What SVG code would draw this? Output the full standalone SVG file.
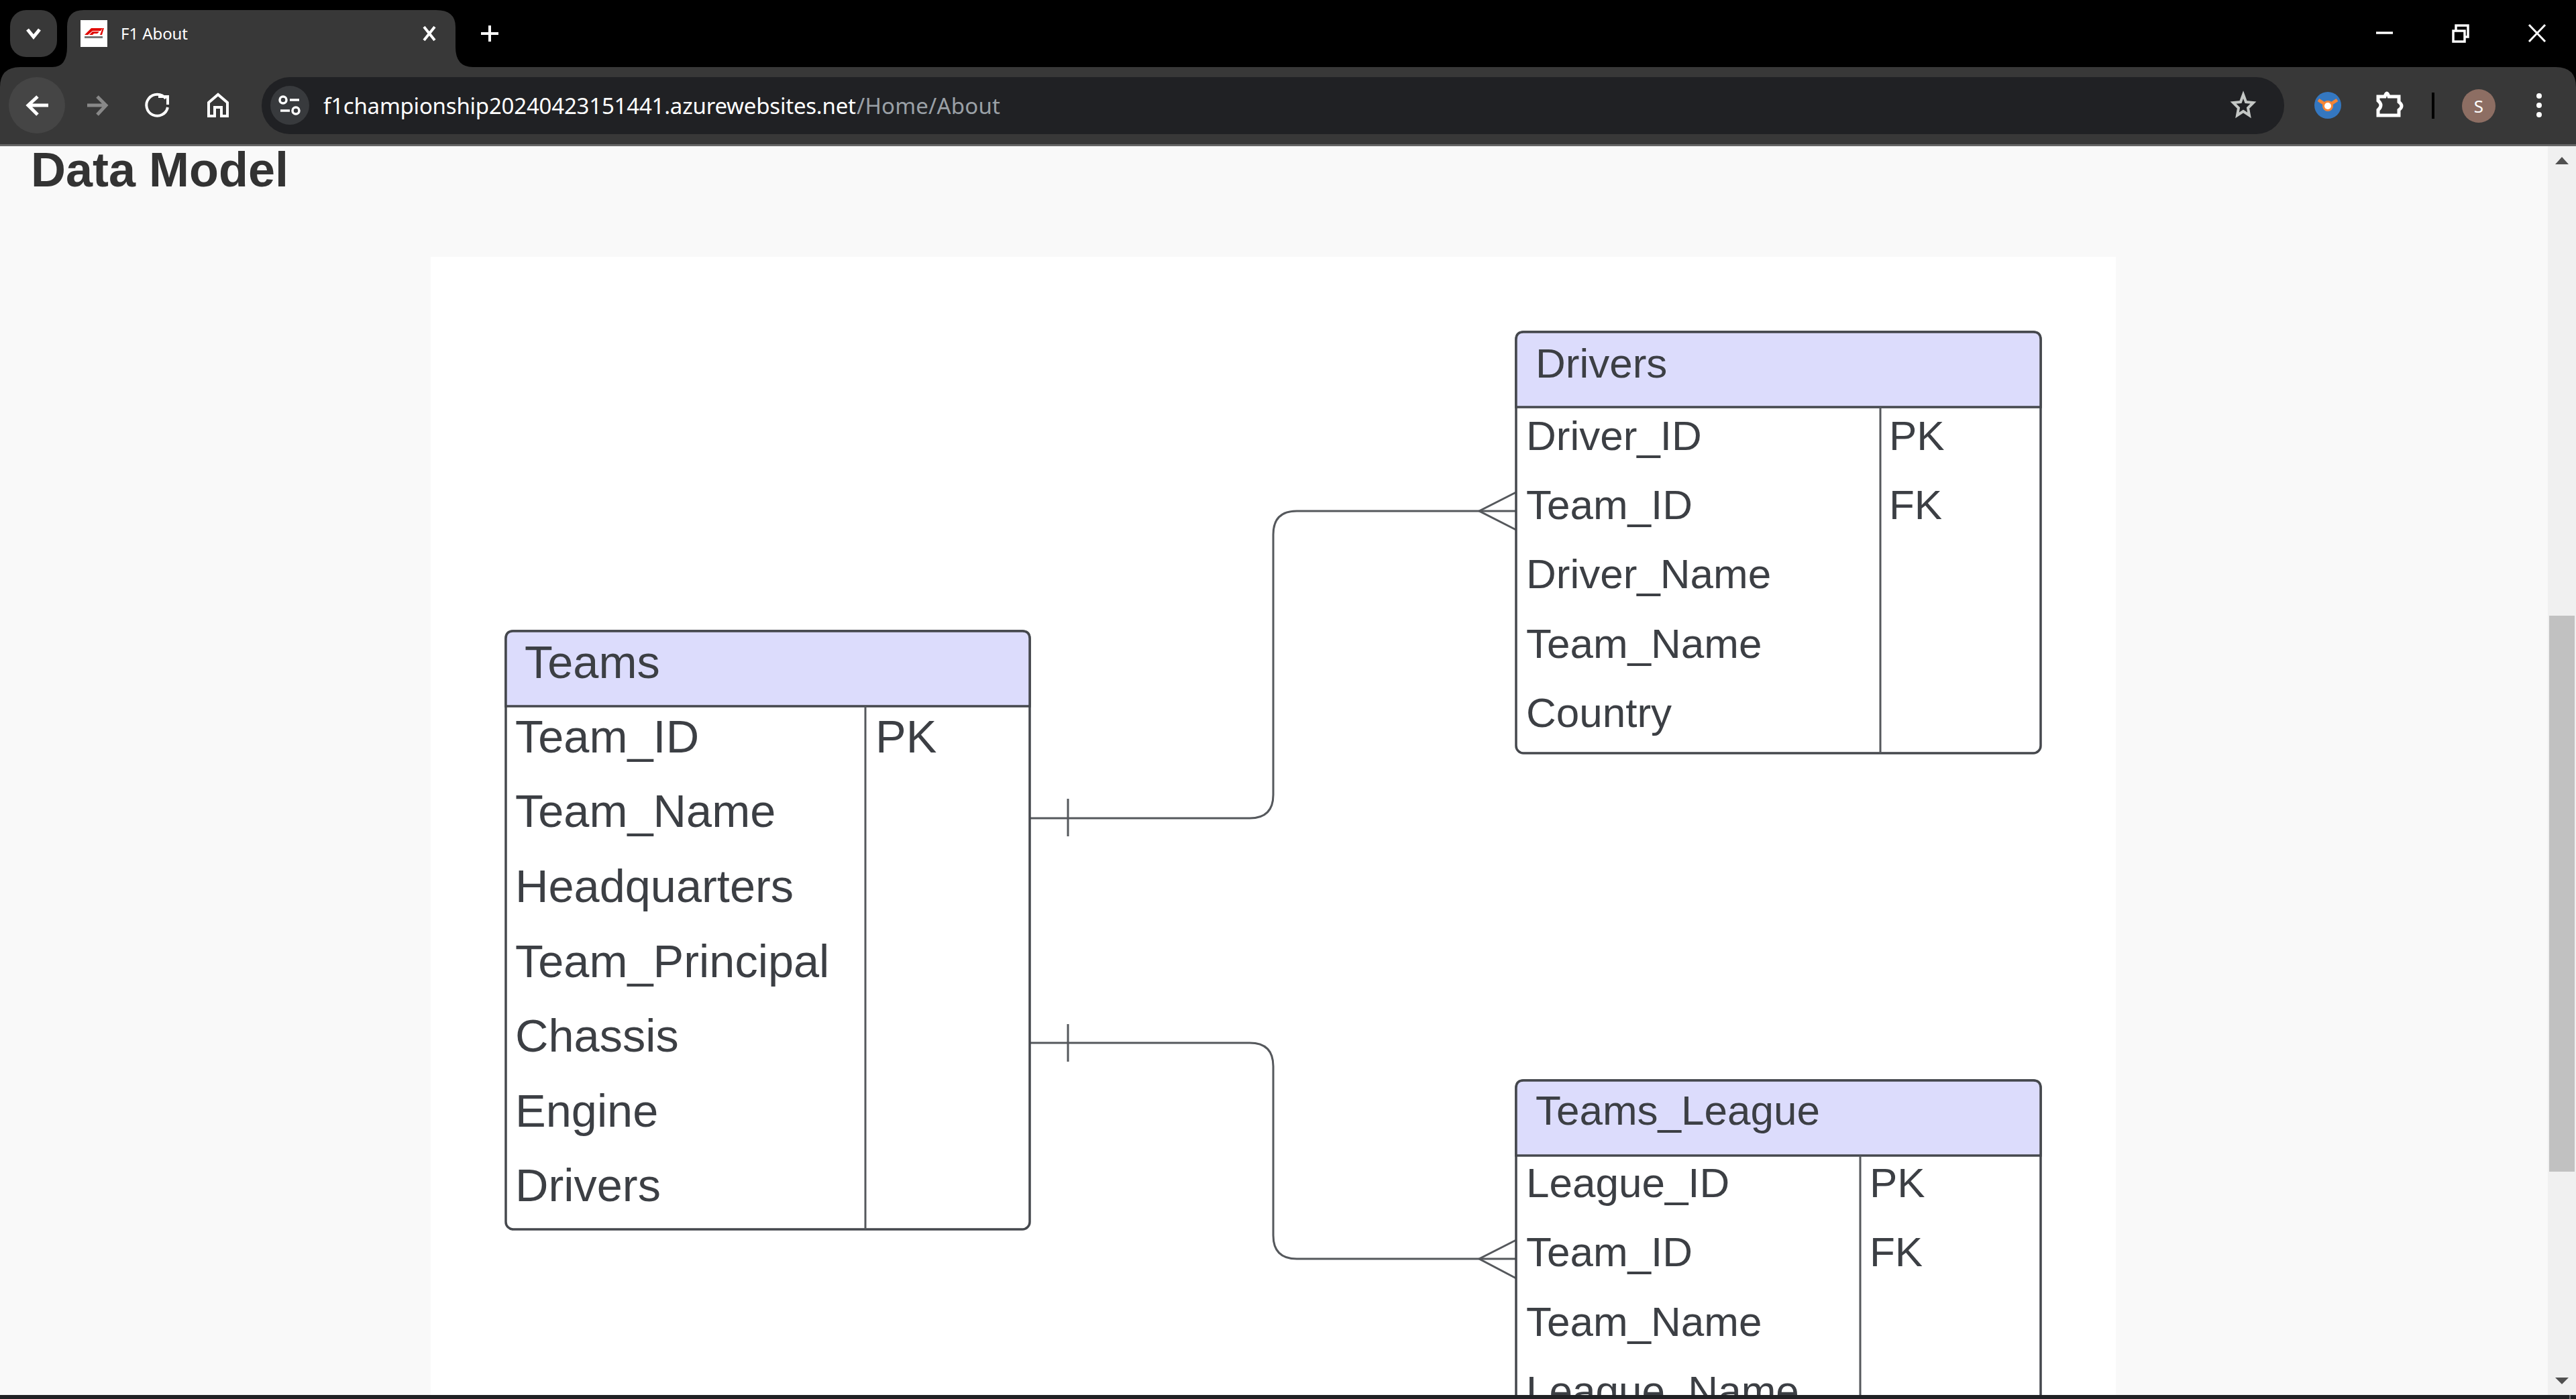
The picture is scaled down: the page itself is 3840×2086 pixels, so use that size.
<svg xmlns="http://www.w3.org/2000/svg" width="3840" height="2086" viewBox="0 0 3840 2086">
<style>
.ui{font-family:"Noto Sans","Open Sans","Liberation Sans",sans-serif}
.t{font-family:"Liberation Sans",Arial,sans-serif;fill:#3c3f44;font-size:62px}
.b{font-size:68.5px}
.box{fill:#fff;stroke:#45484d;stroke-width:3.5}
.hd{fill:#dcdcfc;stroke:#45484d;stroke-width:3.5}
.ln{stroke:#55585c;stroke-width:3;fill:none}
.ic{fill:none;stroke:#fff;stroke-width:5}
</style>
<rect width="3840" height="2086" fill="#f9f9f9"/>
<g id="page">
<rect x="642" y="383" width="2512" height="1700" fill="#fff"/>
<text x="46" y="278" font-family="Liberation Sans,Arial,sans-serif" font-weight="700" font-size="72" fill="#333">Data Model</text>
</g>
<g id="connectors" class="ln">
<path d="M1535 1220H1863Q1898 1220 1898 1185V797Q1898 762 1933 762H2260"/>
<path d="M1592 1191V1247"/>
<path d="M2260 734L2205 762L2260 790"/>
<path d="M1535 1555H1863Q1898 1555 1898 1590V1842Q1898 1877 1933 1877H2260"/>
<path d="M1592 1527V1583"/>
<path d="M2260 1849L2205 1877L2260 1906"/>
</g>
<g id="teams">
<rect class="box" x="754" y="941" width="781" height="892" rx="11"/>
<path class="hd" d="M754 1053V952Q754 941 765 941H1524Q1535 941 1535 952V1053Z"/>
<path class="ln" d="M1290 1053V1833"/>
<text class="t b" x="782" y="1011">Teams</text>
<text class="t b" x="768" y="1122">Team_ID</text>
<text class="t b" x="768" y="1233">Team_Name</text>
<text class="t b" x="768" y="1345">Headquarters</text>
<text class="t b" x="768" y="1457">Team_Principal</text>
<text class="t b" x="768" y="1568">Chassis</text>
<text class="t b" x="768" y="1680">Engine</text>
<text class="t b" x="768" y="1791">Drivers</text>
<text class="t b" x="1305" y="1122">PK</text>
</g>
<g id="drivers">
<rect class="box" x="2260" y="495" width="782" height="628" rx="11"/>
<path class="hd" d="M2260 607V506Q2260 495 2271 495H3031Q3042 495 3042 506V607Z"/>
<path class="ln" d="M2803 607V1123"/>
<text class="t" x="2289" y="563">Drivers</text>
<text class="t" x="2275" y="671">Driver_ID</text>
<text class="t" x="2275" y="774">Team_ID</text>
<text class="t" x="2275" y="877">Driver_Name</text>
<text class="t" x="2275" y="981">Team_Name</text>
<text class="t" x="2275" y="1084">Country</text>
<text class="t" x="2816" y="671">PK</text>
<text class="t" x="2816" y="774">FK</text>
</g>
<g id="teams_league">
<rect class="box" x="2260" y="1611" width="782" height="600" rx="11"/>
<path class="hd" d="M2260 1723V1622Q2260 1611 2271 1611H3031Q3042 1611 3042 1622V1723Z"/>
<path class="ln" d="M2773 1723V2100"/>
<text class="t" x="2289" y="1677">Teams_League</text>
<text class="t" x="2275" y="1785">League_ID</text>
<text class="t" x="2275" y="1888">Team_ID</text>
<text class="t" x="2275" y="1992">Team_Name</text>
<text class="t" x="2275" y="2095">League_Name</text>
<text class="t" x="2787" y="1785">PK</text>
<text class="t" x="2787" y="1888">FK</text>
</g>
<g id="scrollbar">
<rect x="3798" y="218" width="42" height="1862" fill="#f0f0f0"/>
<rect x="3800" y="918" width="38" height="829" fill="#c1c1c1"/>
<path d="M3809 245H3829L3819 234Z" fill="#505050"/>
<path d="M3809 2054H3829L3819 2064Z" fill="#505050"/>
</g>
<rect id="taskbar" y="2080" width="3840" height="6" fill="#202124"/>
<rect x="3830" y="2080" width="2" height="6" fill="#777"/>
<g id="browser">
<rect width="3840" height="100" fill="#000"/>
<rect y="100" width="3840" height="115" fill="#383838"/>
<path d="M0 130Q0 100 30 100H0ZM3840 130Q3840 100 3810 100H3840Z" fill="#000"/>
<rect y="215" width="3840" height="3" fill="#666"/>
<rect x="15" y="15" width="70" height="70" rx="24" fill="#383838"/>
<path class="ic" d="M41 44L50 55L59 44"/>
<path d="M78 100Q100 100 100 70V40Q100 15 125 15H650Q679 15 679 40V70Q679 100 705 100Z" fill="#383838"/>
<rect x="120" y="30" width="40" height="40" fill="#fff"/>
<path d="M126 52L136 42H153L150 46H138L131 52ZM133 52L138 47H148L145 50H140L138 52ZM149 52L153 42H155L152 52Z" fill="#e10600"/>
<rect x="126" y="54" width="27" height="3" fill="#777"/>
<text class="ui" x="180" y="59" font-size="24" fill="#fff" textLength="100">F1 About</text>
<path d="M632 40L648 60M648 40L632 60" stroke="#fff" stroke-width="4"/>
<path d="M730 38V62M717 50H743" stroke="#fff" stroke-width="4"/>
<circle cx="55" cy="157" r="42" fill="#454545"/>
<path class="ic" d="M72 157H42M56 144L42 157L56 171"/>
<path class="ic" style="stroke:#888" d="M130 157H158M145 144L158 157L145 171"/>
<path class="ic" style="stroke-width:4" d="M247 147A16 16 0 1 0 250 160M236 144H250V156"/>
<path class="ic" style="stroke-width:4" d="M311 173V153L325 141L339 153V173H330V160H320V173Z"/>
<rect x="390" y="115" width="3015" height="85" rx="42" fill="#202124"/>
<circle cx="432" cy="157" r="29" fill="#383a3d"/>
<circle cx="422" cy="149" r="5" fill="none" stroke="#fff" stroke-width="3.5"/><path d="M432 149H446M418 165H432" stroke="#fff" stroke-width="3.5"/><circle cx="441" cy="165" r="5" fill="none" stroke="#fff" stroke-width="3.5"/>
<text class="ui" x="482" y="170" font-size="33" fill="#fff" textLength="794">f1championship20240423151441.azurewebsites.net</text>
<text class="ui" x="1277" y="170" font-size="33" fill="#9aa0a6" textLength="214">/Home/About</text>
<path d="M3344 141L3348 152L3359 153L3351 161L3353 172L3344 166L3335 172L3337 161L3329 153L3340 152Z" fill="none" stroke="#c4c7c5" stroke-width="4"/>
<circle cx="3470" cy="157" r="20" fill="#3477c0"/>
<path d="M3456 149L3470 158L3484 149" stroke="#f58536" stroke-width="5" fill="none"/><circle cx="3470" cy="158" r="8" fill="#f58536"/><circle cx="3470" cy="158" r="5" fill="#fff"/>
<path class="ic" d="M3545 144H3555Q3558 134 3561 144H3576V152Q3584 158 3576 164V172H3545V164Q3553 157 3545 150Z"/>
<rect x="3625" y="138" width="4" height="39" fill="#000"/>
<circle cx="3695" cy="158" r="25" fill="#8d6e63"/>
<text x="3695" y="168" text-anchor="middle" class="ui" font-size="26" fill="#fff">S</text>
<circle cx="3785" cy="143" r="4" fill="#fff"/><circle cx="3785" cy="157" r="4" fill="#fff"/><circle cx="3785" cy="171" r="4" fill="#fff"/>
<path d="M3542 49H3567" stroke="#fff" stroke-width="3.5"/>
<path d="M3657 46H3674V62H3657ZM3661 46V38H3679V55H3674" fill="none" stroke="#fff" stroke-width="3.5"/>
<path d="M3770 37L3794 62M3794 37L3770 62" stroke="#fff" stroke-width="3"/>
</g>
</svg>
